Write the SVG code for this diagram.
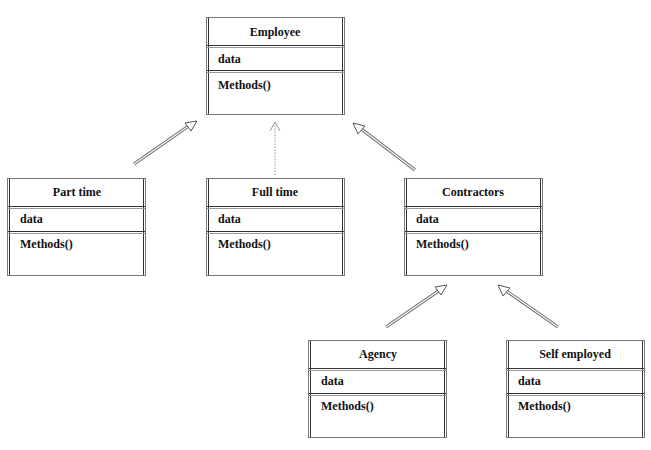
<svg xmlns="http://www.w3.org/2000/svg" width="651" height="450" viewBox="0 0 651 450">
<style>
.box{fill:#fff;stroke:#777;stroke-width:1}
.side{stroke:#333;stroke-width:1;fill:none}
.div{stroke:#333;stroke-width:1}
.divl{stroke:#999;stroke-width:1}
.t{font-family:"Liberation Serif","Times New Roman",serif;font-size:12px;font-weight:bold;fill:#111}
.c{text-anchor:middle}
.lo{stroke:#666;stroke-width:3.2;fill:none}
.li{stroke:#fff;stroke-width:1.2;fill:none}
.head{fill:#fff;stroke:#555;stroke-width:1}
.dot{stroke:#999;stroke-width:1;stroke-dasharray:1.5 1.5;fill:none}
</style>
<defs>
<g id="cls">
<rect class="box" x="0.5" y="0.5" width="138" height="97"/>
<line class="side" x1="2.5" y1="1" x2="2.5" y2="97"/>
<line class="side" x1="136.5" y1="1" x2="136.5" y2="97"/>
<line class="div" x1="1" y1="28.5" x2="138" y2="28.5"/>
<line class="divl" x1="1" y1="30.5" x2="138" y2="30.5"/>
<line class="div" x1="1" y1="53.5" x2="138" y2="53.5"/>
<line class="divl" x1="1" y1="55.5" x2="138" y2="55.5"/>
</g>
</defs>
<g id="connectors">
<g id="e-part">
<path class="lo" d="M134,164 L190,125"/><path class="li" d="M134,164 L190,125"/>
<polygon class="head" points="197,121 185,123 191,131"/>
</g>
<g id="e-full">
<path class="dot" d="M275,175 L275,123"/>
<path d="M270,131 L275,122 L280,131" fill="none" stroke="#999" stroke-width="1"/>
</g>
<g id="e-contr">
<path class="lo" d="M415,170 L360,128"/><path class="li" d="M415,170 L360,128"/>
<polygon class="head" points="353,123 358,134 365,126"/>
</g>
<g id="c-agency">
<path class="lo" d="M386,327 L440,290"/><path class="li" d="M386,327 L440,290"/>
<polygon class="head" points="447,285 435,287 441,295"/>
</g>
<g id="c-self">
<path class="lo" d="M558,327 L505,290"/><path class="li" d="M558,327 L505,290"/>
<polygon class="head" points="498,285 503,296 510,288"/>
</g>
</g>
<g id="employee" transform="translate(206,17)">
<use href="#cls"/>
<text class="t c" x="69" y="19">Employee</text>
<text class="t" x="12" y="46">data</text>
<text class="t" x="12" y="72">Methods()</text>
</g>
<g id="parttime" transform="translate(7,178)">
<use href="#cls"/>
<text class="t c" x="70" y="18">Part time</text>
<text class="t" x="13" y="45">data</text>
<text class="t" x="13" y="70">Methods()</text>
</g>
<g id="fulltime" transform="translate(206,178)">
<use href="#cls"/>
<text class="t c" x="69" y="18">Full time</text>
<text class="t" x="12" y="45">data</text>
<text class="t" x="12" y="70">Methods()</text>
</g>
<g id="contractors" transform="translate(404,178)">
<use href="#cls"/>
<text class="t c" x="69" y="18">Contractors</text>
<text class="t" x="12" y="45">data</text>
<text class="t" x="12" y="70">Methods()</text>
</g>
<g id="agency" transform="translate(308,340)">
<use href="#cls"/>
<text class="t c" x="70" y="18">Agency</text>
<text class="t" x="13" y="45">data</text>
<text class="t" x="13" y="70">Methods()</text>
</g>
<g id="selfemployed" transform="translate(506,340)">
<use href="#cls"/>
<text class="t c" x="69" y="18">Self employed</text>
<text class="t" x="12" y="45">data</text>
<text class="t" x="12" y="70">Methods()</text>
</g>
</svg>
